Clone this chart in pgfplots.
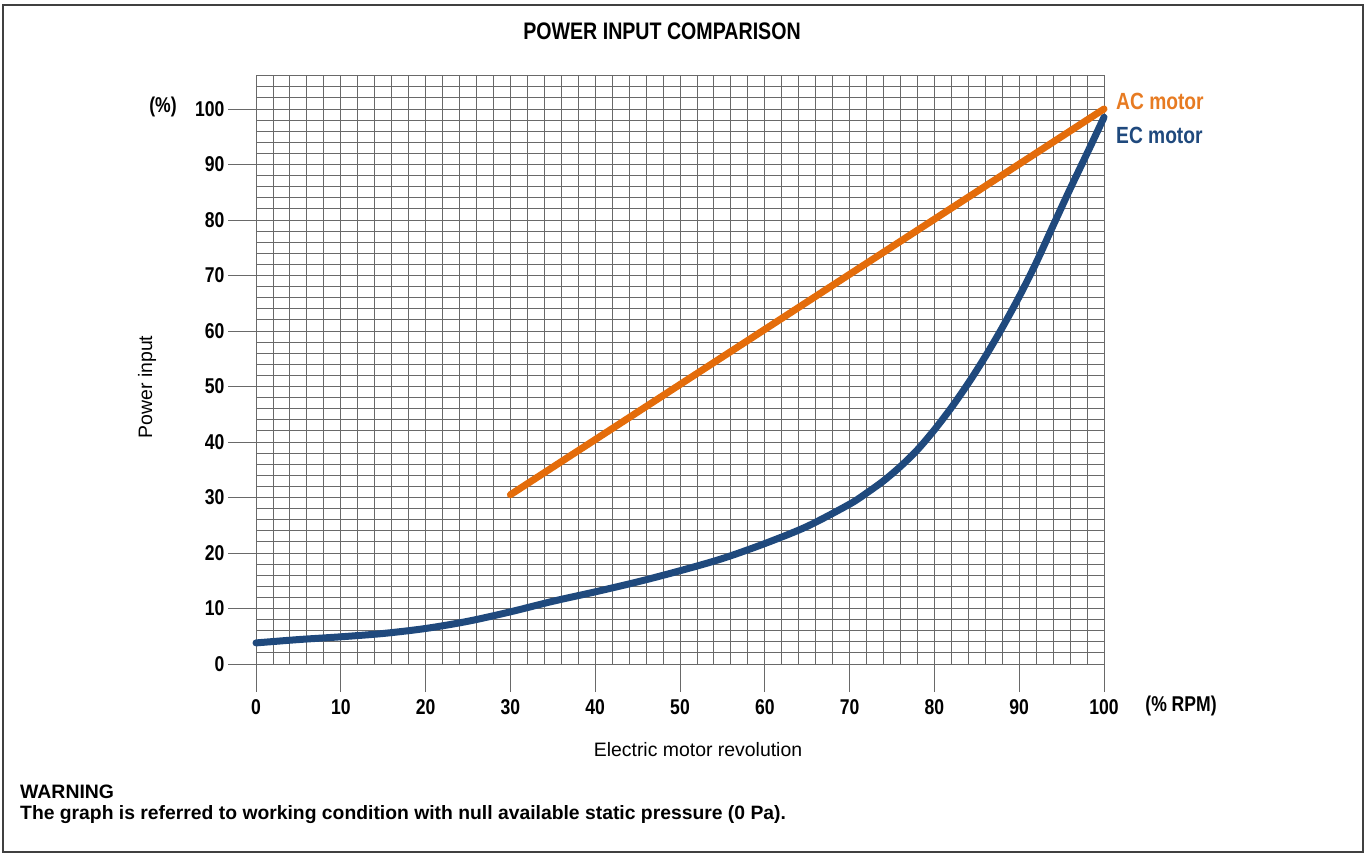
\documentclass[border=0pt]{standalone}
\usepackage{fontspec}
\setmainfont{Liberation Sans}
\newfontfamily\narrow[FakeStretch=0.82]{Liberation Sans}
\usepackage{pgfplots}
\pgfplotsset{compat=1.18}
\definecolor{acorange}{RGB}{228,108,10}
\definecolor{ecblue}{RGB}{31,73,125}
\definecolor{gridc}{RGB}{105,105,105}
\begin{document}
\begin{tikzpicture}[x=1bp,y=1bp]
\useasboundingbox (0,0) rectangle (1366,857);
\draw[line width=1.6bp, black!75] (3,5) rectangle (1363,852);
\begin{axis}[
  at={(256bp,193bp)}, anchor=south west,
  scale only axis, width=848bp, height=588.3bp,
  xmin=0, xmax=100, ymin=0, ymax=106,
  xtick={0,10,...,100}, ytick={0,10,...,100},
  minor xtick={0,2,...,100}, minor ytick={0,2,...,106},
  grid=both,
  major grid style={gridc, line width=0.9bp},
  minor grid style={gridc, line width=0.9bp},
  axis line style={gridc, line width=0.9bp},
  tick align=outside, major tick length=28bp, minor tick length=0pt,
  tick style={gridc, line width=0.9bp},
  xtick pos=bottom, ytick pos=left,
  /pgf/number format/assume math mode=true,
  tick label style={font=\narrow\bfseries\fontsize{21.5}{21.5}\selectfont},
  xticklabel style={anchor=north, yshift=-4bp},
  yticklabel style={anchor=east},
  clip=false,
]
\addplot[acorange, line width=7bp, line cap=round] coordinates {(30,30.5) (100,100)};
\addplot[ecblue, line width=7bp, line cap=round, smooth] coordinates {
(0,3.8) (5,4.4) (10,4.9) (15,5.5) (20,6.4) (25,7.7) (30,9.4) (35,11.3) (40,13.0)
(45,14.8) (50,16.8) (55,19.0) (60,21.7) (65,24.8) (70,28.8) (72,30.8) (74,33.0)
(76,35.6) (78,38.6) (80,42.2) (82,46.2) (84,50.6) (86,55.4) (88,60.6) (90,66.2)
(92,72.3) (94,79.0) (96,85.6) (98,92.0) (100,98.5)};
\end{axis}
\node[font=\narrow\bfseries\fontsize{24}{24}\selectfont] at (662,826) {POWER INPUT COMPARISON};
\node[font=\narrow\bfseries\fontsize{21.5}{21.5}\selectfont] at (163,750) {(\%)};
\node[font=\narrow\bfseries\fontsize{21.5}{21.5}\selectfont] at (1181,151) {(\% RPM)};
\node[font=\fontsize{19.5}{19.5}\selectfont] at (698,107) {Electric motor revolution};
\node[font=\fontsize{19.5}{19.5}\selectfont, rotate=90] at (147,470) {Power input};
\node[font=\narrow\bfseries\fontsize{23.5}{23.5}\selectfont, text=acorange!90, anchor=west, inner sep=0pt] at (1116,756) {AC motor};
\node[font=\narrow\bfseries\fontsize{23.5}{23.5}\selectfont, text=ecblue, anchor=west, inner sep=0pt] at (1116,722) {EC motor};
\node[font=\bfseries\fontsize{19.5}{19.5}\selectfont, anchor=west, inner sep=0pt] at (20,65) {WARNING};
\node[font=\bfseries\fontsize{19.4}{19.4}\selectfont, anchor=west, inner sep=0pt] at (20,42) {The graph is referred to working condition with null available static pressure (0 Pa).};
\end{tikzpicture}
\end{document}
